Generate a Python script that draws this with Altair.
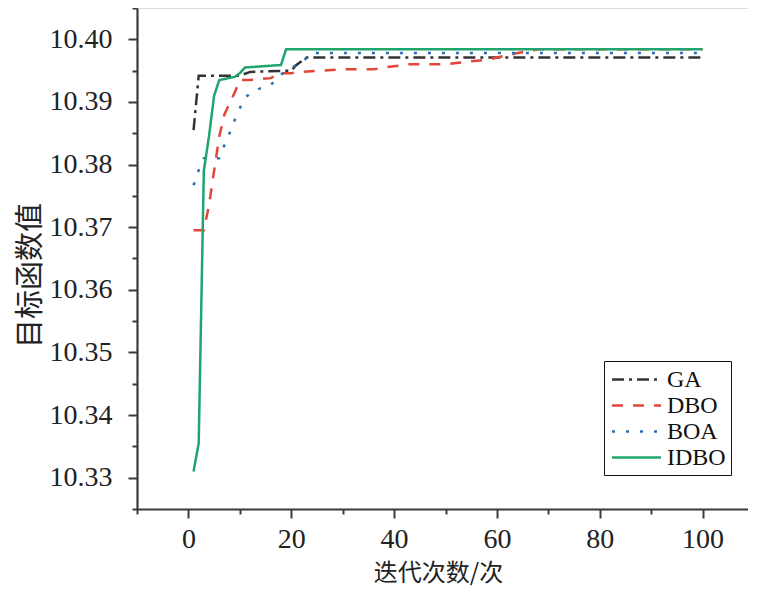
import altair as alt
import pandas as pd

# ---- data ----
ga_x = [1, 2, 10, 12, 20, 21, 22, 23, 100]
ga_y = [10.3855, 10.3942, 10.3942, 10.3948, 10.3950, 10.3959, 10.3965, 10.3971, 10.3971]

dbo_x = [1, 3, 4, 5, 6, 7, 9, 10, 12, 16, 18, 20, 22, 30, 36, 38, 40, 43, 50, 53, 55, 58, 60, 64, 68, 100]
dbo_y = [10.3695, 10.3695, 10.3735, 10.3790, 10.3845, 10.3880, 10.3915, 10.3935, 10.3935, 10.3938,
         10.3946, 10.3946, 10.3948, 10.3952, 10.3952, 10.3955, 10.3957, 10.3960, 10.3960, 10.3963,
         10.3965, 10.3967, 10.3971, 10.3978, 10.3984, 10.3984]

boa_x = [1, 2, 3, 6, 7, 8, 9, 10, 11, 13, 16, 18, 20, 21, 22, 23, 24, 100]
boa_y = [10.3767, 10.3791, 10.3810, 10.3810, 10.3831, 10.3850, 10.3871, 10.3890, 10.3907, 10.3919,
         10.3927, 10.3944, 10.3954, 10.3959, 10.3962, 10.3971, 10.3978, 10.3978]

idbo_x = [1, 2, 3, 4, 5, 6, 9, 10, 11, 18, 19, 100]
idbo_y = [10.3310, 10.3355, 10.3790, 10.3845, 10.3910, 10.3935, 10.3940, 10.3946, 10.3955, 10.3959,
          10.3984, 10.3984]

series = ["GA", "DBO", "BOA", "IDBO"]
colors = ["#333333", "#e2463a", "#2c6db3", "#1fa56d"]
dashes = [[12, 5, 3, 5], [11, 10], [3, 11], [1, 0]]

x_ticks = list(range(-10, 111, 10))
y_ticks = [round(10.325 + 0.005 * i, 3) for i in range(17)]

rows = []
for name, xs, ys in [("GA", ga_x, ga_y), ("DBO", dbo_x, dbo_y),
                     ("BOA", boa_x, boa_y), ("IDBO", idbo_x, idbo_y)]:
    for i, (xv, yv) in enumerate(zip(xs, ys)):
        rows.append({"alg": name, "iter": xv, "val": yv, "k": i})
df = pd.DataFrame(rows)

serif = "Liberation Serif"
cjk = "Noto Sans CJK SC"
axis_col = "#3a3a3a"

x_axis = alt.Axis(
    values=x_ticks,
    title="迭代次数/次",
    titleFont=cjk, titleFontSize=24, titleFontWeight="normal", titleColor="#222",
    titleX=301, titleY=64, titleBaseline="middle", titleAlign="center",
    labelExpr="datum.value % 20 == 0 ? datum.label : ''",
    labelFont=serif, labelFontSize=28, labelColor="#222", labelPadding=7,
    labelOverlap=False, labelFlush=False,
    tickSize={"condition": {"test": "datum.value % 20 == 0", "value": 9}, "value": 5},
    tickColor=axis_col, tickWidth=2,
    domainColor=axis_col, domainWidth=2.2,
    grid=False,
)

y_axis = alt.Axis(
    values=y_ticks,
    format=".2f",
    title="目标函数值",
    titleFont=cjk, titleFontSize=29, titleFontWeight="normal", titleColor="#222",
    titleX=-107, titleY=267, titleBaseline="middle", titleAlign="center", titleAngle=-90,
    labelExpr="round(datum.value * 1000) % 10 == 0 ? datum.label : ''",
    labelFont=serif, labelFontSize=28, labelColor="#222", labelPadding=16,
    labelOverlap=False, labelFlush=False,
    tickSize={"condition": {"test": "round(datum.value * 1000) % 10 == 0", "value": 9}, "value": 5},
    tickColor=axis_col, tickWidth=2,
    domainColor=axis_col, domainWidth=2.2,
    grid=False,
)

legend = alt.Legend(
    title=None, orient="none", legendX=467, legendY=353,
    symbolType="M-2,0H2", symbolSize=600, symbolStrokeWidth=2.5, symbolOffset=14,
    labelFont=serif, labelFontSize=24, labelColor="#111", labelOffset=17,
    strokeColor="#111", fillColor="white", padding=5, rowPadding=0,
)

chart = alt.Chart(df).mark_line(strokeWidth=2.5, clip=True).encode(
    x=alt.X("iter:Q", scale=alt.Scale(domain=[-10, 110], nice=False, zero=False), axis=x_axis),
    y=alt.Y("val:Q", scale=alt.Scale(domain=[10.325, 10.405], nice=False, zero=False), axis=y_axis),
    color=alt.Color("alg:N", scale=alt.Scale(domain=series, range=colors), legend=legend, sort=series),
    strokeDash=alt.StrokeDash("alg:N", scale=alt.Scale(domain=series, range=dashes), legend=legend, sort=series),
    order="k:Q",
).properties(
    width=617, height=501,
    padding={"left": 129, "top": 0, "right": -6, "bottom": 82},
    autosize=alt.AutoSizeParams(type="none"),
).configure_view(stroke=None).configure(background="white")

chart.save("out.html", embed_options={"renderer": "svg", "actions": False})
